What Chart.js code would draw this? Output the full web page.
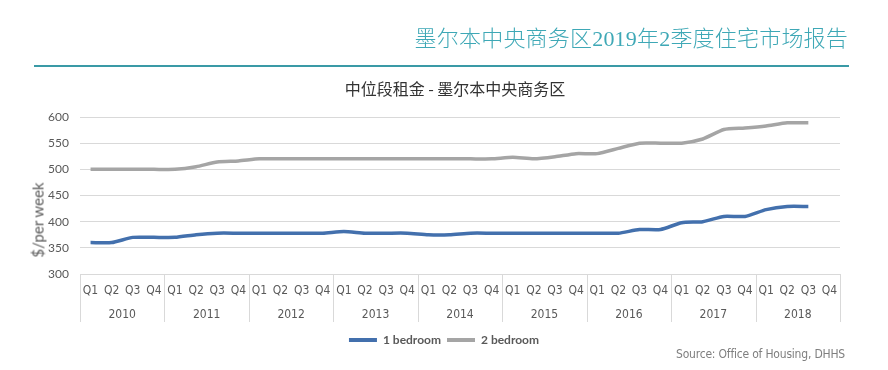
<!DOCTYPE html>
<html>
<head>
<meta charset="utf-8">
<script src="https://cdn.jsdelivr.net/npm/chart.js@4"></script>
<style>
  html, body { margin: 0; padding: 0; background: #fff; }
  #wrap { position: relative; width: 888px; height: 370px; overflow: hidden; }
  #chart { position: absolute; left: 0; top: 0; }
  .hdr { position: absolute; right: 40px; top: 20px; font-family: "Liberation Serif", "Noto Sans CJK SC", serif; font-weight: 300; font-size: 22px; letter-spacing: 0.2px; color: #3ea8b6; white-space: nowrap; }
  .rule { position: absolute; left: 34px; width: 815px; top: 65px; height: 2px; background: #3a9aa6; }
  .ctitle { position: absolute; left: 0; width: 910px; text-align: center; top: 76px; font-family: "Noto Sans CJK SC", sans-serif; font-size: 16px; color: #333; white-space: nowrap; }
  .src { position: absolute; right: 43px; top: 347px; font-family: "Liberation Sans Narrow", "DejaVu Sans Condensed", sans-serif; font-size: 12px; letter-spacing: -0.2px; color: #7f7f7f; }
  .ytitle { position: absolute; left: 38px; top: 220px; transform: translate(-50%, -50%) rotate(-90deg); font-family: "Lato", "Liberation Sans", sans-serif; font-size: 15px; line-height: 15px; color: #595959; white-space: nowrap; }
</style>
</head>
<body>
<div id="wrap">
  <canvas id="chart" width="888" height="370"></canvas>
  <div class="hdr">墨尔本中央商务区2019年2季度住宅市场报告</div>
  <div class="rule"></div>
  <div class="ctitle">中位段租金 - 墨尔本中央商务区</div>
  <div class="ytitle">$/per week</div>
  <div class="src">Source: Office of Housing, DHHS</div>
</div>
<script>
const years = ["2010","2011","2012","2013","2014","2015","2016","2017","2018"];
const quarters = ["Q1","Q2","Q3","Q4"];
const oneBedroom = [
  360, 360, 370, 370,
  370, 375, 378, 378,
  378, 378, 378, 378,
  381, 378, 378, 378,
  375, 375, 378, 378,
  378, 378, 378, 378,
  378, 378, 385, 385,
  398, 400, 410, 410,
  423, 429, 429, null
];
const twoBedroom = [
  500, 500, 500, 500,
  500, 505, 514, 516,
  520, 520, 520, 520,
  520, 520, 520, 520,
  520, 520, 520, 520,
  523, 520, 524, 530,
  530, 540, 550, 550,
  550, 558, 576, 579,
  583, 589, 589, null
];
const yTicks = { min: 300, max: 600, step: 50 };

const labels = [];
years.forEach(y => quarters.forEach(q => labels.push(q)));

const separators = {
  id: 'separators',
  afterDraw(chart) {
    const ctx = chart.ctx;
    const area = chart.chartArea;
    const n = years.length;
    const w = (area.right - area.left) / n;
    ctx.save();
    ctx.strokeStyle = '#d9d9d9';
    ctx.lineWidth = 1;
    for (let k = 0; k <= n; k++) {
      const x = Math.round(area.left + k * w) + 0.5;
      ctx.beginPath();
      ctx.moveTo(x, area.bottom);
      ctx.lineTo(x, area.bottom + 48);
      ctx.stroke();
    }
    ctx.restore();
  }
};

const narrow = "'Liberation Sans Narrow', 'DejaVu Sans Condensed', sans-serif";

new Chart(document.getElementById('chart'), {
  type: 'line',
  data: {
    labels: labels,
    datasets: [
      { label: '1 bedroom', data: oneBedroom, borderColor: '#4370ad', backgroundColor: '#4370ad', borderWidth: 3.5, pointRadius: 0, tension: 0.2, xAxisID: 'x' },
      { label: '2 bedroom', data: twoBedroom, borderColor: '#a5a5a5', backgroundColor: '#a5a5a5', borderWidth: 3.5, pointRadius: 0, tension: 0.2, xAxisID: 'x' }
    ]
  },
  options: {
    responsive: false,
    animation: false,
    layout: { padding: { left: 48, right: 48, top: 117, bottom: 14 } },
    plugins: {
      title: { display: false },
      tooltip: { enabled: false },
      legend: {
        position: 'bottom',
        labels: {
          boxWidth: 28, boxHeight: 4, padding: 6,
          color: '#595959',
          font: { family: "'Lato', 'Liberation Sans', sans-serif", size: 12, weight: 'bold' },
          generateLabels(chart) {
            return chart.data.datasets.map((d, i) => ({
              text: d.label, fillStyle: d.borderColor, strokeStyle: d.borderColor, lineWidth: 0, datasetIndex: i, fontColor: '#595959'
            }));
          }
        }
      }
    },
    scales: {
      x: {
        type: 'category',
        offset: true,
        grid: { display: false },
        border: { display: false },
        afterFit(s) { s.height = 26; },
        ticks: { color: '#595959', autoSkip: false, maxRotation: 0, padding: 2, font: { family: narrow, size: 12 } }
      },
      x2: {
        type: 'category',
        labels: years,
        offset: true,
        position: 'bottom',
        grid: { display: false },
        border: { display: false },
        afterFit(s) { s.height = 28; },
        ticks: { color: '#595959', autoSkip: false, maxRotation: 0, padding: 0, font: { family: narrow, size: 12 } }
      },
      y: {
        min: yTicks.min, max: yTicks.max,
        afterFit(s) { s.width = 32; },
        ticks: { stepSize: yTicks.step, color: '#595959', padding: 11, font: { family: "'Lato', 'Liberation Sans', sans-serif", size: 12 } },
        grid: { color: '#d9d9d9', drawTicks: false },
        border: { display: false },
        title: { display: false }
      }
    }
  },
  plugins: [separators]
});
</script>
</body>
</html>
